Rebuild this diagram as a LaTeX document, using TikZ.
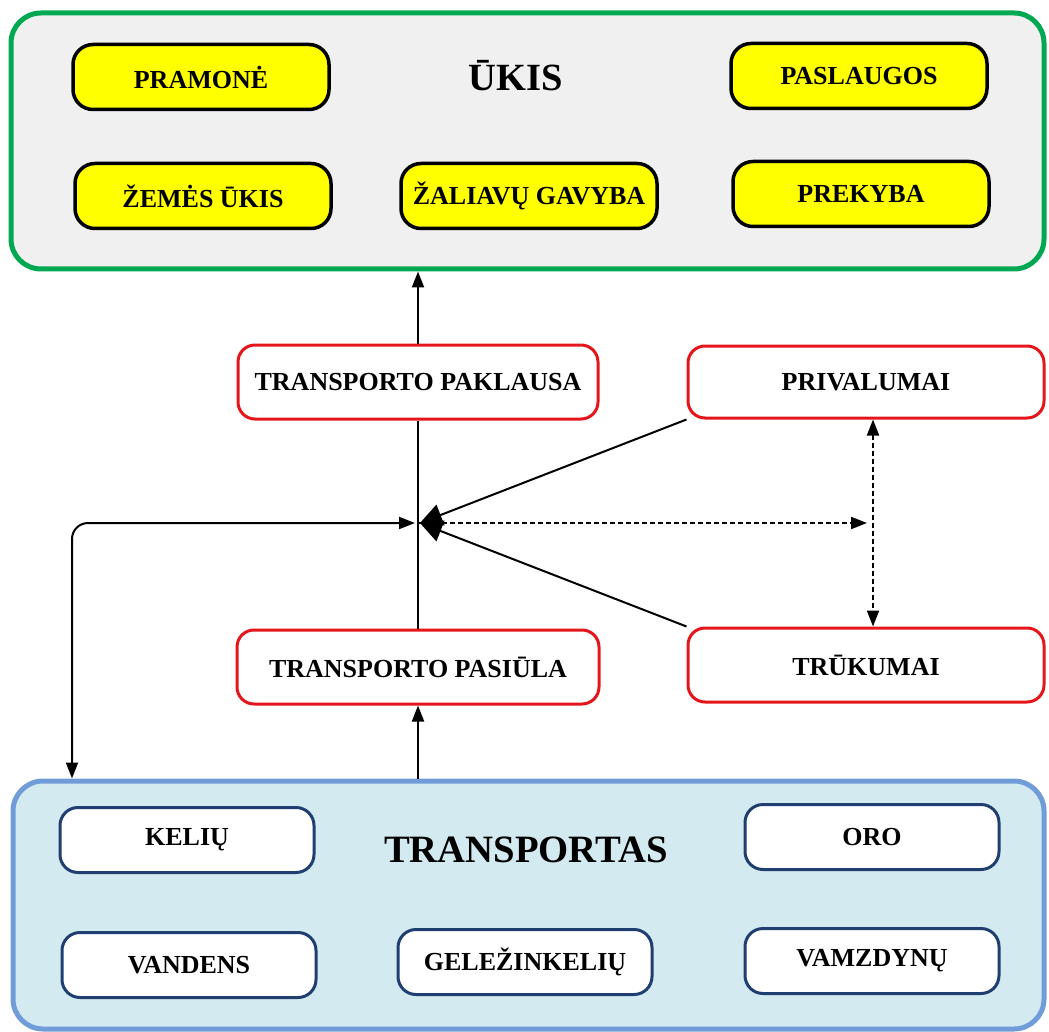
\documentclass[tikz,border=0pt]{standalone}
\usepackage{fontspec}
\setmainfont{Liberation Serif}
\usetikzlibrary{arrows.meta}
\definecolor{ukgreen}{RGB}{0,168,82}
\definecolor{ukgray}{RGB}{240,240,240}
\definecolor{ukyellow}{RGB}{255,255,0}
\definecolor{tred}{RGB}{228,22,28}
\definecolor{tblue}{RGB}{112,156,216}
\definecolor{tlight}{RGB}{210,234,240}
\definecolor{tdark}{RGB}{32,62,112}
\tikzset{
  atip/.tip={Triangle[length=16pt,width=12pt]},
  btip/.tip={Triangle[length=22pt,width=22pt]},
}
\begin{document}
\begin{tikzpicture}[x=1pt,y=-1pt,
  bigbox/.style={rounded corners=30pt, line width=5pt, inner sep=0pt},
  lbl/.style={font=\bfseries\fontsize{26}{30}\selectfont},
  ybox/.style={lbl, draw=black, fill=ukyellow, rounded corners=20pt, line width=3.5pt,
    minimum width=256pt, minimum height=65pt, inner sep=0pt},
  rbox/.style={lbl, draw=tred, fill=white, rounded corners=17pt, line width=3pt,
    minimum width=360pt, minimum height=74pt, inner sep=0pt},
  bbox/.style={lbl, draw=tdark, fill=white, rounded corners=18pt, line width=3pt,
    minimum width=254pt, minimum height=65pt, inner sep=0pt},
  conn/.style={draw=black, line width=2pt},
  dots/.style={conn, dash pattern=on 5pt off 3pt},
]
\useasboundingbox (0,0) rectangle (1049,1032);

% ----- UKIS
\node[bigbox, draw=ukgreen, fill=ukgray, minimum width=1033pt, minimum height=256pt] (ukis) at (527.5,141) {};
\node[font=\bfseries\fontsize{38.5}{42}\selectfont] (ukist) at (516,76) {ŪKIS};
\node[ybox] (pramone) at (201,77) {PRAMONĖ};
\node[ybox] (paslaugos) at (859,76) {PASLAUGOS};
\node[ybox] (zemes) at (203,196) {ŽEMĖS ŪKIS};
\node[ybox] (zaliavu) at (529,196) {ŽALIAVŲ GAVYBA};
\node[ybox] (prekyba) at (861,194) {PREKYBA};

% ----- TRANSPORTAS
\node[bigbox, draw=tblue, fill=tlight, minimum width=1031pt, minimum height=248pt] (transp) at (528.5,905) {};
\node[font=\bfseries\fontsize{38.7}{42}\selectfont] (transpt) at (526,850) {TRANSPORTAS};
\node[bbox] (keliu) at (187,840) {KELIŲ};
\node[bbox] (oro) at (872,837) {ORO};
\node[bbox] (vandens) at (189,965) {VANDENS};
\node[bbox] (gelez) at (525,962) {GELEŽINKELIŲ};
\node[bbox] (vamzd) at (872,961) {VAMZDYNŲ};

% ----- middle
\coordinate (J) at (418,523);
\coordinate (L) at (72,523);
\coordinate (D) at (867,523);

\node[rbox] (paklausa) at (418,382) {TRANSPORTO PAKLAUSA};
\node[rbox, minimum width=356pt, minimum height=72pt] (privalumai) at (866,382) {PRIVALUMAI};
\node[rbox, minimum width=362pt] (pasiula) at (418,667) {TRANSPORTO PASIŪLA};
\node[rbox, minimum width=356pt] (trukumai) at (866,665) {TRŪKUMAI};

\draw[conn] (pasiula.north) -- (paklausa.south);
\draw[conn, -{atip}] (paklausa.north) -- (paklausa.north |- ukis.south);
\draw[conn, -{atip}] (pasiula.south |- transp.north) -- (pasiula.south);
\draw[conn, {atip}-{atip}, rounded corners=16pt] ([xshift=-3pt]J) -- (L) -- (L |- transp.north);

\draw[dots, -{atip}] (J) -- (D);
\draw[dots, {atip}-{atip}] ([xshift=7pt]privalumai.south) -- ([xshift=7pt]trukumai.north);

\draw[conn, -{btip}] (privalumai.south west) -- ([xshift=2pt]J);
\draw[conn, -{btip}] (trukumai.north west) -- ([xshift=2pt]J);
\end{tikzpicture}
\end{document}
